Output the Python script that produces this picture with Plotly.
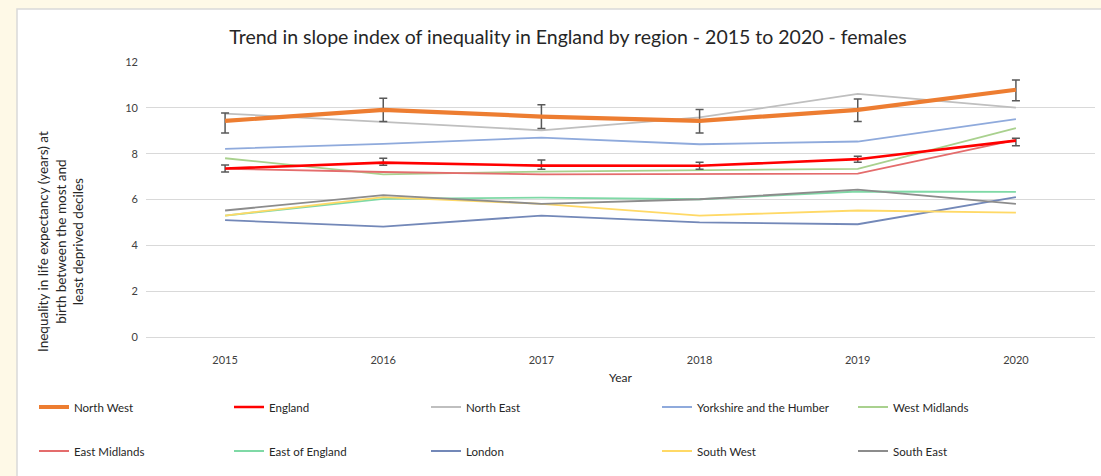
import plotly.graph_objects as go

years = ["2015", "2016", "2017", "2018", "2019", "2020"]

north_west = [9.43, 9.91, 9.62, 9.43, 9.91, 10.79]
north_west_err_plus = [0.35, 0.51, 0.51, 0.50, 0.48, 0.42]
north_west_err_minus = [0.53, 0.51, 0.52, 0.53, 0.51, 0.48]

england = [7.35, 7.61, 7.48, 7.47, 7.76, 8.57]
england_err_plus = [0.16, 0.19, 0.24, 0.16, 0.13, 0.10]
england_err_minus = [0.15, 0.11, 0.16, 0.15, 0.13, 0.22]

north_east = [9.75, 9.40, 9.02, 9.58, 10.61, 10.01]
yorkshire = [8.21, 8.43, 8.70, 8.41, 8.53, 9.51]
west_midlands = [7.80, 7.10, 7.22, 7.27, 7.34, 9.11]
east_midlands = [7.34, 7.20, 7.10, 7.10, 7.13, 8.60]
east_of_england = [5.30, 6.03, 6.08, 6.01, 6.35, 6.33]
london = [5.10, 4.82, 5.30, 5.00, 4.92, 6.10]
south_west = [5.30, 6.10, 5.81, 5.30, 5.52, 5.43]
south_east = [5.52, 6.19, 5.81, 6.01, 6.43, 5.81]

y_ticks = [0, 2, 4, 6, 8, 10, 12]

FONT = "Lato, 'Open Sans', sans-serif"

# plot area pixel geometry
L, R, T, B = 146, 6, 62, 139
W = 1101 - L - R
H = 476 - T - B

def px_x(p):
    return (p - L) / W

def px_y(p):
    return (476 - B - p) / H

# legend slot pixel positions (line-sample start x, row centre y)
col_x = [40, 235, 432, 663, 859]
row_y = [407, 451]

fig = go.Figure()

minor = [
    ("North East", north_east, "#bfbfbf", 1.8, (0, 2)),
    ("Yorkshire and the Humber", yorkshire, "#8faadc", 1.8, (0, 3)),
    ("West Midlands", west_midlands, "#a9d18e", 1.8, (0, 4)),
    ("East Midlands", east_midlands, "#e46c6c", 1.8, (1, 0)),
    ("East of England", east_of_england, "#7fd9a6", 1.8, (1, 1)),
    ("London", london, "#7388b8", 1.8, (1, 2)),
    ("South West", south_west, "#ffd966", 1.8, (1, 3)),
    ("South East", south_east, "#8c8c8c", 1.8, (1, 4)),
]

legend_common = dict(orientation="h", xanchor="left", yanchor="middle",
                     bgcolor="rgba(0,0,0,0)",
                     font=dict(family=FONT, size=11.5, color="#262626"),
                     itemclick=False)

legend_layouts = {}

def legend_name(slot):
    r, c = slot
    idx = r * 5 + c + 1
    key = "legend" if idx == 1 else f"legend{idx}"
    legend_layouts[key] = dict(x=px_x(col_x[c] - 6), y=px_y(row_y[r]), **legend_common)
    return key

for name, vals, col, w, slot in minor:
    fig.add_trace(go.Scatter(x=years, y=vals, name=name, mode="lines",
                             line=dict(color=col, width=w),
                             legend=legend_name(slot)))

fig.add_trace(go.Scatter(
    x=years, y=england, name="England", mode="lines",
    line=dict(color="#ff0000", width=2.6), legend=legend_name((0, 1)),
    error_y=dict(type="data", symmetric=False, array=england_err_plus,
                 arrayminus=england_err_minus, color="#595959",
                 thickness=1.5, width=4)))

fig.add_trace(go.Scatter(
    x=years, y=north_west, name="North West", mode="lines",
    line=dict(color="#ed7d31", width=4.2), legend=legend_name((0, 0)),
    error_y=dict(type="data", symmetric=False, array=north_west_err_plus,
                 arrayminus=north_west_err_minus, color="#595959",
                 thickness=1.5, width=4)))

fig.add_shape(type="rect", xref="paper", yref="paper",
              x0=px_x(17), x1=px_x(1120), y0=px_y(9), y1=px_y(500),
              line=dict(color="#d9d9d9", width=1.5), fillcolor="white",
              layer="below")

fig.add_annotation(
    text="Inequality in life expectancy (years) at<br>birth between the most and<br>least deprived deciles",
    xref="paper", yref="paper", x=px_x(60), y=px_y(242),
    xanchor="center", yanchor="middle",
    textangle=-90, showarrow=False, align="center",
    font=dict(family=FONT, size=13.5, color="#262626"))

fig.update_layout(
    width=1101, height=476,
    margin=dict(l=L, r=R, t=T, b=B),
    paper_bgcolor="#fef9e7",
    plot_bgcolor="white",
    title=dict(text="Trend in slope index of inequality in England by region - 2015 to 2020 - females",
               x=568 / 1101, xanchor="center", y=1 - 37 / 476, yanchor="middle",
               yref="container", xref="container",
               font=dict(family=FONT, size=19.5, color="#262626")),
    xaxis=dict(type="category", range=[-0.5, 5.5], showgrid=False,
               showline=False, zeroline=False, ticks="",
               tickfont=dict(family=FONT, size=11, color="#404040"),
               ticklabelstandoff=15,
               title=dict(text="Year", font=dict(family=FONT, size=12, color="#262626"),
                          standoff=8)),
    yaxis=dict(range=[0, 12], tickvals=y_ticks, showgrid=True,
               gridcolor="#d9d9d9", gridwidth=1, zeroline=True,
               zerolinecolor="#d9d9d9", zerolinewidth=1, showline=False,
               ticks="", tickfont=dict(family=FONT, size=11, color="#404040"),
               ticklabelstandoff=7),
    showlegend=True,
    **legend_layouts,
)

fig.write_html("out.html")
